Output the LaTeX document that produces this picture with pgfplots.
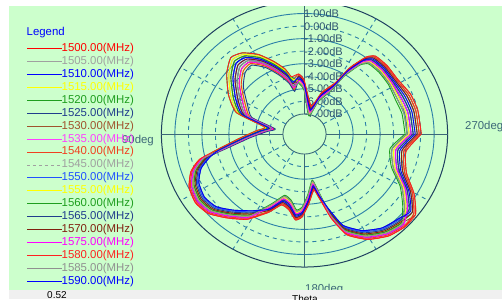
\documentclass[border=0pt]{standalone}
\usepackage{pgfplots}
\pgfplotsset{compat=1.18}
\usepackage{pgfplotstable}
\usepackage{fontspec}
\setmainfont{Liberation Sans}

\definecolor{bggreen}{HTML}{CCFFCC}
\definecolor{ringc}{HTML}{2A7FA8}
\definecolor{outerc}{HTML}{1E4060}
\definecolor{axc}{HTML}{3C6878}
\definecolor{lblc}{HTML}{2E5470}
\definecolor{f1500}{HTML}{FF0000}
\definecolor{f1505}{HTML}{A0A0A0}
\definecolor{f1510}{HTML}{0000FF}
\definecolor{f1515}{HTML}{FFFF00}
\definecolor{f1520}{HTML}{1E9E1E}
\definecolor{f1525}{HTML}{203C8C}
\definecolor{f1530}{HTML}{A0522D}
\definecolor{f1535}{HTML}{FF40FF}
\definecolor{f1540}{HTML}{F04020}
\definecolor{f1545}{HTML}{A0A0A0}
\definecolor{f1550}{HTML}{2050FF}
\definecolor{f1555}{HTML}{FFFF00}
\definecolor{f1560}{HTML}{1E9E1E}
\definecolor{f1565}{HTML}{203C8C}
\definecolor{f1570}{HTML}{802010}
\definecolor{f1575}{HTML}{FF00FF}
\definecolor{f1580}{HTML}{FF2020}
\definecolor{f1585}{HTML}{909090}
\definecolor{f1590}{HTML}{0000FF}

% phi = polar angle (deg, math convention), c_k = radius = gain(dB) + 8.6
\pgfplotstableread{
phi c1 c2 c3 c4 c5 c6 c7 c8 c9 c10 c11 c12 c13 c14 c15 c16 c17 c18 c19
0 8.50 8.20 7.90 8.35 7.60 8.05 8.65 7.75 8.50 7.90 8.35 7.75 7.45 8.05 8.35 7.90 8.65 7.60 8.20
12.6 8.45 8.15 7.85 8.30 7.55 8.00 8.60 7.70 8.45 7.85 8.30 7.70 7.40 8.00 8.30 7.85 8.60 7.55 8.15
22.0 8.32 8.02 7.72 8.17 7.42 7.87 8.47 7.57 8.32 7.72 8.17 7.57 7.27 7.87 8.17 7.72 8.47 7.42 8.02
32.3 8.06 7.86 7.66 7.96 7.46 7.76 8.16 7.56 8.06 7.66 7.96 7.56 7.36 7.76 7.96 7.66 8.16 7.46 7.86
41.7 8.09 7.89 7.69 7.99 7.49 7.79 8.19 7.59 8.09 7.69 7.99 7.59 7.39 7.79 7.99 7.69 8.19 7.49 7.89
49.7 8.03 7.83 7.63 7.93 7.43 7.73 8.13 7.53 8.03 7.63 7.93 7.53 7.33 7.73 7.93 7.63 8.13 7.43 7.83
53.3 7.55 7.35 7.15 7.45 6.95 7.25 7.65 7.05 7.55 7.15 7.45 7.05 6.85 7.25 7.45 7.15 7.65 6.95 7.35
57.5 6.16 5.96 5.76 6.06 5.56 5.86 6.26 5.66 6.16 5.76 6.06 5.66 5.46 5.86 6.06 5.76 6.26 5.56 5.96
60.6 4.60 4.40 4.20 4.50 4.00 4.30 4.70 4.10 4.60 4.20 4.50 4.10 3.90 4.30 4.50 4.20 4.70 4.00 4.40
68.7 3.46 3.26 3.06 3.36 2.86 3.16 3.56 2.96 3.46 3.06 3.36 2.96 2.76 3.16 3.36 3.06 3.56 2.86 3.26
77.5 2.18 1.98 1.78 2.08 1.58 1.88 2.28 1.68 2.18 1.78 2.08 1.68 1.48 1.88 2.08 1.78 2.28 1.58 1.98
90.5 4.20 4.00 3.80 4.10 3.60 3.90 4.30 3.70 4.20 3.80 4.10 3.70 3.50 3.90 4.10 3.80 4.30 3.60 4.00
95.3 4.70 4.50 4.30 4.60 4.10 4.40 4.80 4.20 4.70 4.30 4.60 4.20 4.00 4.40 4.60 4.30 4.80 4.10 4.50
102.1 3.77 4.52 4.22 3.62 4.67 3.92 4.37 4.07 3.62 4.22 4.07 4.52 4.37 3.47 4.07 3.77 4.67 3.92 4.22
105.7 4.50 5.25 4.95 4.35 5.40 4.65 5.10 4.80 4.35 4.95 4.80 5.25 5.10 4.20 4.80 4.50 5.40 4.65 4.95
111.9 5.37 6.12 5.82 5.22 6.27 5.52 5.97 5.67 5.22 5.82 5.67 6.12 5.97 5.07 5.67 5.37 6.27 5.52 5.82
118.4 6.31 7.06 6.76 6.16 7.21 6.46 6.91 6.61 6.16 6.76 6.61 7.06 6.91 6.01 6.61 6.31 7.21 6.46 6.76
125.5 7.04 7.79 7.49 6.89 7.94 7.19 7.64 7.34 6.89 7.49 7.34 7.79 7.64 6.74 7.34 7.04 7.94 7.19 7.49
131.9 6.98 7.98 7.58 6.78 8.18 7.18 7.78 7.38 6.78 7.58 7.38 7.98 7.78 6.58 7.38 6.98 8.18 7.18 7.58
140.1 6.31 7.31 6.91 6.11 7.51 6.51 7.11 6.71 6.11 6.91 6.71 7.31 7.11 5.91 6.71 6.31 7.51 6.51 6.91
151.2 5.22 6.22 5.82 5.02 6.42 5.42 6.02 5.62 5.02 5.82 5.62 6.22 6.02 4.82 5.62 5.22 6.42 5.42 5.82
161.3 4.43 5.18 4.88 4.28 5.33 4.58 5.03 4.73 4.28 4.88 4.73 5.18 5.03 4.13 4.73 4.43 5.33 4.58 4.88
169.4 2.40 2.90 2.70 2.30 3.00 2.50 2.80 2.60 2.30 2.70 2.60 2.90 2.80 2.20 2.60 2.40 3.00 2.50 2.70
175.7 2.96 3.46 3.26 2.86 3.56 3.06 3.36 3.16 2.86 3.26 3.16 3.46 3.36 2.76 3.16 2.96 3.56 3.06 3.26
184.1 4.22 4.72 4.52 4.12 4.82 4.32 4.62 4.42 4.12 4.52 4.42 4.72 4.62 4.02 4.42 4.22 4.82 4.32 4.52
191.5 6.19 6.69 6.49 6.09 6.79 6.29 6.59 6.39 6.09 6.49 6.39 6.69 6.59 5.99 6.39 6.19 6.79 6.29 6.49
194.5 8.01 7.31 7.81 7.51 7.71 7.21 7.61 7.91 7.91 7.41 7.31 7.71 7.61 7.41 7.51 7.81 8.01 7.71 7.21
199.6 8.93 8.23 8.73 8.43 8.63 8.13 8.53 8.83 8.83 8.33 8.23 8.63 8.53 8.33 8.43 8.73 8.93 8.63 8.13
206.4 9.54 8.84 9.34 9.04 9.24 8.74 9.14 9.44 9.44 8.94 8.84 9.24 9.14 8.94 9.04 9.34 9.54 9.24 8.74
214.2 9.76 9.06 9.56 9.26 9.46 8.96 9.36 9.66 9.66 9.16 9.06 9.46 9.36 9.16 9.26 9.56 9.76 9.46 8.96
221.5 9.54 8.84 9.34 9.04 9.24 8.74 9.14 9.44 9.44 8.94 8.84 9.24 9.14 8.94 9.04 9.34 9.54 9.24 8.74
229.1 8.83 8.13 8.63 8.33 8.53 8.03 8.43 8.73 8.73 8.23 8.13 8.53 8.43 8.23 8.33 8.63 8.83 8.53 8.03
238.0 8.01 7.31 7.81 7.51 7.71 7.21 7.61 7.91 7.91 7.41 7.31 7.71 7.61 7.41 7.51 7.81 8.01 7.71 7.21
246.6 6.73 6.53 6.33 6.63 6.13 6.43 6.83 6.23 6.73 6.33 6.63 6.23 6.03 6.43 6.63 6.33 6.83 6.13 6.53
253.2 5.80 5.60 5.40 5.70 5.20 5.50 5.90 5.30 5.80 5.40 5.70 5.30 5.10 5.50 5.70 5.40 5.90 5.20 5.60
259.3 6.06 5.86 5.66 5.96 5.46 5.76 6.16 5.56 6.06 5.66 5.96 5.56 5.36 5.76 5.96 5.66 6.16 5.46 5.86
264.4 6.78 6.58 6.38 6.68 6.18 6.48 6.88 6.28 6.78 6.38 6.68 6.28 6.08 6.48 6.68 6.38 6.88 6.18 6.58
268.3 6.52 6.32 6.12 6.42 5.92 6.22 6.62 6.02 6.52 6.12 6.42 6.02 5.82 6.22 6.42 6.12 6.62 5.92 6.32
272.8 5.57 5.37 5.17 5.47 4.97 5.27 5.67 5.07 5.57 5.17 5.47 5.07 4.87 5.27 5.47 5.17 5.67 4.97 5.37
278.8 4.41 4.21 4.01 4.31 3.81 4.11 4.51 3.91 4.41 4.01 4.31 3.91 3.71 4.11 4.31 4.01 4.51 3.81 4.21
282.0 5.11 4.91 4.71 5.01 4.51 4.81 5.21 4.61 5.11 4.71 5.01 4.61 4.41 4.81 5.01 4.71 5.21 4.51 4.91
286.5 7.00 6.30 6.80 6.50 6.70 6.20 6.60 6.90 6.90 6.40 6.30 6.70 6.60 6.40 6.50 6.80 7.00 6.70 6.20
291.4 8.62 7.92 8.42 8.12 8.32 7.82 8.22 8.52 8.52 8.02 7.92 8.32 8.22 8.02 8.12 8.42 8.62 8.32 7.82
299.1 9.61 8.91 9.41 9.11 9.31 8.81 9.21 9.51 9.51 9.01 8.91 9.31 9.21 9.01 9.11 9.41 9.61 9.31 8.81
307.4 10.23 9.53 10.03 9.73 9.93 9.43 9.83 10.13 10.13 9.63 9.53 9.93 9.83 9.63 9.73 10.03 10.23 9.93 9.43
315.2 10.48 9.78 10.28 9.98 10.18 9.68 10.08 10.38 10.38 9.88 9.78 10.18 10.08 9.88 9.98 10.28 10.48 10.18 9.68
322.0 10.28 9.98 9.68 10.13 9.38 9.83 10.43 9.53 10.28 9.68 10.13 9.53 9.23 9.83 10.13 9.68 10.43 9.38 9.98
329.6 9.26 8.96 8.66 9.11 8.36 8.81 9.41 8.51 9.26 8.66 9.11 8.51 8.21 8.81 9.11 8.66 9.41 8.36 8.96
337.7 8.01 7.71 7.41 7.86 7.11 7.56 8.16 7.26 8.01 7.41 7.86 7.26 6.96 7.56 7.86 7.41 8.16 7.11 7.71
349.6 7.49 7.19 6.89 7.34 6.59 7.04 7.64 6.74 7.49 6.89 7.34 6.74 6.44 7.04 7.34 6.89 7.64 6.59 7.19
360 8.50 8.20 7.90 8.35 7.60 8.05 8.65 7.75 8.50 7.90 8.35 7.75 7.45 8.05 8.35 7.90 8.65 7.60 8.20
}\pat

\begin{document}
\begin{tikzpicture}[x=1bp,y=1bp,font=\fontsize{11.4bp}{13bp}\selectfont]
\useasboundingbox (0,0) rectangle (502,299);
\clip (0,0) rectangle (502,299);
\fill[white] (0,0) rectangle (502,299);
\fill[bggreen] (9,9) rectangle (502,293);

% rings (center 304.5,165)
\foreach \rx/\ry in {35.1/32.63, 62.1/57.73, 89.1/82.83, 116.1/107.93}
  \draw[ringc, line width=0.9bp, dash pattern=on 4bp off 4bp] (304.5,165) ellipse [x radius=\rx bp, y radius=\ry bp];
\foreach \rx/\ry in {48.6/45.18, 75.6/70.28, 102.6/95.38, 129.6/120.48}
  \draw[ringc, line width=0.9bp] (304.5,165) ellipse [x radius=\rx bp, y radius=\ry bp];
\draw[axc, line width=0.9bp] (304.5,165) ellipse [x radius=21.6bp, y radius=20.08bp];
\draw[outerc, line width=1bp] (304.5,165) ellipse [x radius=143.1bp, y radius=133.03bp];
% spokes
\foreach \a in {30,60,120,150,210,240,300,330}
  \draw[ringc, line width=0.9bp, dash pattern=on 4bp off 4bp] ({304.5+21.6*cos(\a)},{165+20.08*sin(\a)}) -- ({304.5+143.1*cos(\a)},{165+133.03*sin(\a)});
% axes lines
\draw[axc, line width=1bp] (161.4,165) -- (282.9,165);
\draw[axc, line width=1bp] (326.1,165) -- (447.6,165);
\draw[axc, line width=1bp] (304.5,185.1) -- (304.5,299);
\draw[axc, line width=1bp] (304.5,144.9) -- (304.5,31.97);
% dB labels
\foreach \v/\yy in {1.00/285.5, 0.00/272.9, -1.00/260.4, -2.00/247.8, -3.00/235.3, -4.00/222.7, -5.00/210.2, -6.00/197.6, -7.00/185.1}
  \node[lblc, anchor=west, inner sep=0pt, font=\fontsize{11bp}{13bp}\selectfont] at (304,\yy) {\v dB};

\begin{axis}[at={(304.5bp,165bp)}, anchor=center, scale only axis,
  width=297bp, height=276.1bp, xmin=-11, xmax=11, ymin=-11, ymax=11,
  hide axis, clip=false]
\pgfplotsset{every axis plot/.append style={line width=0.9bp, line join=round, smooth, tension=0.3}}
\addplot[data cs=polar, f1500] table[x=phi, y=c1] {\pat};
\addplot[data cs=polar, f1505] table[x=phi, y=c2] {\pat};
\addplot[data cs=polar, f1510] table[x=phi, y=c3] {\pat};
\addplot[data cs=polar, f1515] table[x=phi, y=c4] {\pat};
\addplot[data cs=polar, f1520] table[x=phi, y=c5] {\pat};
\addplot[data cs=polar, f1525] table[x=phi, y=c6] {\pat};
\addplot[data cs=polar, f1530] table[x=phi, y=c7] {\pat};
\addplot[data cs=polar, f1535] table[x=phi, y=c8] {\pat};
\addplot[data cs=polar, f1540] table[x=phi, y=c9] {\pat};
\addplot[data cs=polar, f1545, dash pattern=on 3bp off 2bp] table[x=phi, y=c10] {\pat};
\addplot[data cs=polar, f1550] table[x=phi, y=c11] {\pat};
\addplot[data cs=polar, f1555] table[x=phi, y=c12] {\pat};
\addplot[data cs=polar, f1560] table[x=phi, y=c13] {\pat};
\addplot[data cs=polar, f1565] table[x=phi, y=c14] {\pat};
\addplot[data cs=polar, f1570] table[x=phi, y=c15] {\pat};
\addplot[data cs=polar, f1575] table[x=phi, y=c16] {\pat};
\addplot[data cs=polar, f1580] table[x=phi, y=c17] {\pat};
\addplot[data cs=polar, f1585] table[x=phi, y=c18] {\pat};
\addplot[data cs=polar, f1590] table[x=phi, y=c19] {\pat};
\end{axis}

% degree labels
\node[axc, anchor=east, inner sep=0pt] at (154,158) {90deg};
\node[axc, anchor=west, inner sep=0pt] at (465,172) {270deg};
\node[axc, anchor=north west, inner sep=0pt] at (305,14.5) {180deg};

% legend
\node[anchor=west, inner sep=0pt, text=blue] at (26.5,266) {Legend};
\foreach \c/\t/\s [count=\k from 0] in {f1500/1500/solid, f1505/1505/solid, f1510/1510/solid, f1515/1515/solid, f1520/1520/solid, f1525/1525/solid, f1530/1530/solid, f1535/1535/solid, f1540/1540/solid, f1545/1545/dashed, f1550/1550/solid, f1555/1555/solid, f1560/1560/solid, f1565/1565/solid, f1570/1570/solid, f1575/1575/solid, f1580/1580/solid, f1585/1585/solid, f1590/1590/solid}{
  \draw[\c, line width=0.9bp, \s] (27,{250.5-12.94*\k}) -- (62,{250.5-12.94*\k});
  \node[\c, anchor=west, inner sep=0pt] at (61.5,{250.5-12.94*\k}) {\t.00(MHz)};
}

% frame strips
\fill[white] (0,293) rectangle (502,299);
\fill[white] (0,0) rectangle (9,299);
\fill[black!6] (9,0) rectangle (502,9);
\node[anchor=north west, inner sep=0pt, font=\fontsize{10bp}{12bp}\selectfont] at (47,7.5) {0.52};
\node[anchor=north west, inner sep=0pt, font=\fontsize{10bp}{12bp}\selectfont] at (292,3.5) {Theta};
\end{tikzpicture}
\end{document}
